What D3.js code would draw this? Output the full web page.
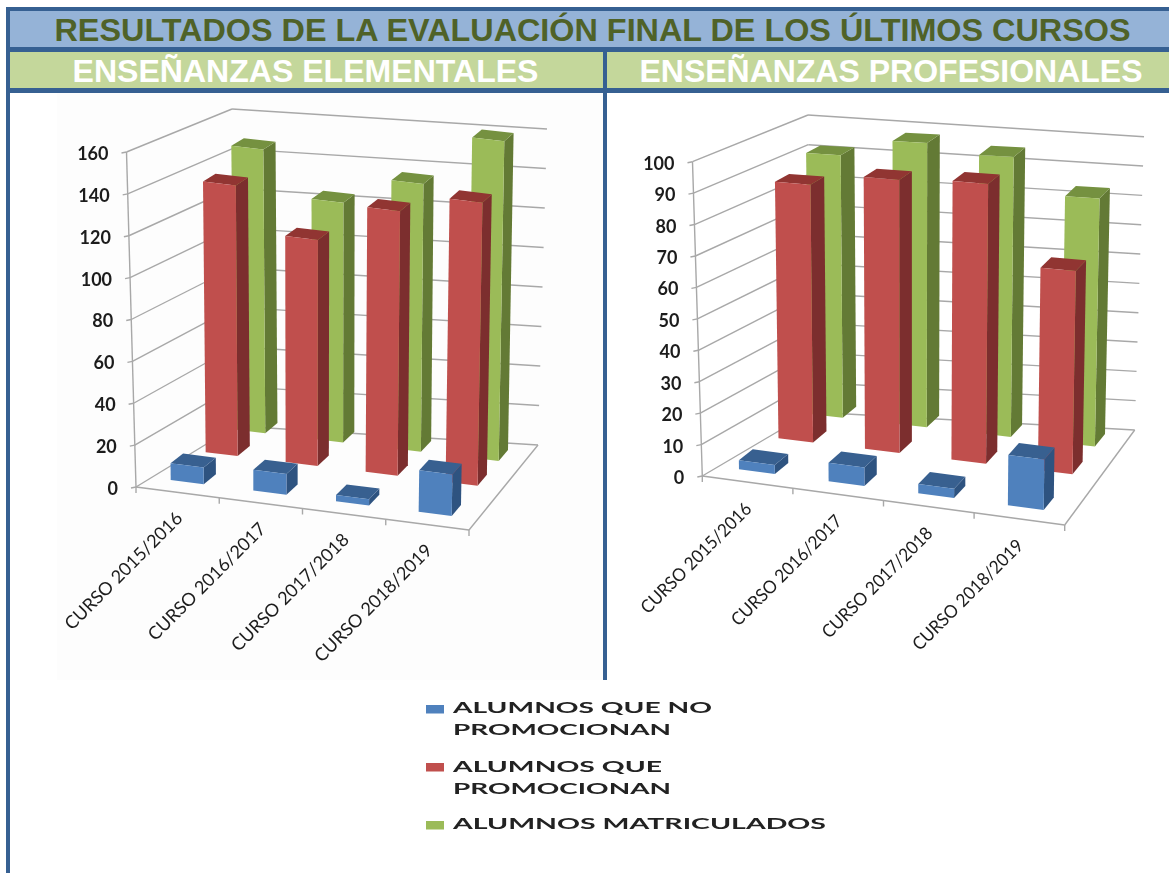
<!DOCTYPE html>
<html><head><meta charset="utf-8">
<script src="https://cdn.jsdelivr.net/npm/d3@7/dist/d3.min.js"></script>
<style>html,body{margin:0;padding:0;background:#fff}svg{display:block}</style>
</head><body><svg id="c" width="1169" height="873"></svg>
<script>
const titleText = "RESULTADOS DE LA EVALUACIÓN FINAL DE LOS ÚLTIMOS CURSOS";
const panelTitles = ["ENSEÑANZAS ELEMENTALES", "ENSEÑANZAS PROFESIONALES"];
const categories = ["CURSO 2015/2016", "CURSO 2016/2017", "CURSO 2017/2018", "CURSO 2018/2019"];
const seriesNames = ["ALUMNOS QUE NO PROMOCIONAN", "ALUMNOS QUE PROMOCIONAN", "ALUMNOS MATRICULADOS"];
const elemNoPromo = [8, 10, 3, 20];
const elemPromo = [133, 111, 130, 139];
const elemMatric = [142, 120, 134, 160];
const profNoPromo = [3, 6, 3, 16];
const profPromo = [87, 91, 92, 66];
const profMatric = [91, 97, 94, 82];

const seriesColors = [
  {front:"#4f81bd", side:"#2f5280", top:"#386090"},
  {front:"#c0504d", side:"#7c2f2d", top:"#913432"},
  {front:"#9bbb59", side:"#647a34", top:"#74913f"}
];
const FRAME = "#366092", GRID = "#a8a8a8";

const svg = d3.select("#c");
const defs = svg.append("defs");
defs.append("filter").attr("id","soft").attr("x","-5%").attr("y","-5%").attr("width","110%").attr("height","110%")
  .append("feGaussianBlur").attr("stdDeviation",0.4);
defs.append("filter").attr("id","softer").attr("x","-5%").attr("y","-20%").attr("width","110%").attr("height","140%")
  .append("feGaussianBlur").attr("stdDeviation",0.55);
const mix = d3.interpolateArray;
const at = (a, b, t) => mix(a, b)(t);

// header and frame
svg.append("rect").attr("x",6).attr("y",7).attr("width",1163).attr("height",86).attr("fill",FRAME);
svg.append("rect").attr("x",10).attr("y",11).attr("width",1159).attr("height",36).attr("fill","#95b3d7");
svg.append("rect").attr("x",10).attr("y",52).attr("width",593).attr("height",36).attr("fill","#c4d79b");
svg.append("rect").attr("x",607).attr("y",52).attr("width",562).attr("height",36).attr("fill","#c4d79b");
svg.append("rect").attr("x",6).attr("y",93).attr("width",4).attr("height",780).attr("fill",FRAME);
svg.append("rect").attr("x",603).attr("y",88).attr("width",4).attr("height",592).attr("fill",FRAME);
svg.append("rect").attr("x",57).attr("y",93).attr("width",546).attr("height",587).attr("fill","#fdfdfd");

const headFont = "'Liberation Sans', Arial, sans-serif";
svg.append("text").attr("x",592.5).attr("y",41).attr("text-anchor","middle")
  .attr("font-family",headFont).attr("font-weight",700).attr("font-size",31)
  .attr("textLength",1076).attr("lengthAdjust","spacingAndGlyphs")
  .attr("fill","#4f6228").text(titleText);
[[305.5,466],[891,503]].forEach(([x,w],i)=>{
  svg.append("text").attr("x",x).attr("y",82).attr("text-anchor","middle")
    .attr("font-family",headFont).attr("font-weight",700).attr("font-size",31)
    .attr("textLength",w).attr("lengthAdjust","spacingAndGlyphs")
    .attr("fill","#fff").text(panelTitles[i]);
});

const frameMap = c => (u,d,t) => at(
    at(at(c.fl,c.fr,u), at(c.bl,c.br,u), d),
    at(at(c.tfl,c.tfr,u), at(c.tbl,c.tbr,u), d), t);

function drawChart(cfg){
  const g = svg.append("g").attr("filter","url(#soft)");
  const P = frameMap(cfg.walls);      // axes and gridlines
  const B = frameMap(cfg.bars);       // bars
  const y = d3.scaleLinear().domain([0,cfg.max]).range([0,1]);
  const x = d3.scaleBand().domain(categories).range([0,1]).paddingInner(0.6).paddingOuter(0);
  const xTick = d3.scaleBand().domain(categories).range([0,1]);
  const z = d3.scaleOrdinal().domain([0,1,2]).range(cfg.rows);
  const rowDepth = 0.165;
  const pts = a => a.map(p=>p.join(",")).join(" ");

  const line = (a,b,w=1.4)=>g.append("line").attr("x1",a[0]).attr("y1",a[1]).attr("x2",b[0]).attr("y2",b[1])
     .attr("stroke",GRID).attr("stroke-width",w);
  y.ticks(cfg.tickCount).forEach(v=>{
    const t=y(v);
    line(P(0,0,t),P(0,1,t));
    line(P(0,1,t),P(1,1,t));
    const a=P(0,0,t);
    line([a[0]-5,a[1]+1],a);
    g.append("text").attr("x",a[0]-cfg.labelGap).attr("y",a[1]+1.5).attr("dy","0.36em").attr("text-anchor","end")
      .attr("font-family","Lato, sans-serif").attr("font-size",cfg.tickFont).attr("font-weight",700)
      .attr("fill","#1c1c1c").text(v);
  });
  line(P(0,0,0),P(0,0,1));
  line(P(0,0,0),P(1,0,0));
  line(P(1,0,0),P(1,1,0));
  [0,1,2,3,4].forEach(i=>{
    const a=P(i/4,0,0);
    line(a,[a[0],a[1]+6]);
  });
  categories.forEach(cat=>{
    const m=P(xTick(cat)+xTick.bandwidth()/2,0,0);
    g.append("text").attr("transform",`translate(${m[0]+cfg.catDx},${m[1]+cfg.catDy}) rotate(-45)`)
      .attr("text-anchor","end").attr("font-family","Lato, sans-serif").attr("font-size",cfg.catFont)
      .attr("textLength",cfg.catLen).attr("lengthAdjust","spacingAndGlyphs")
      .attr("fill","#1c1c1c").text(cat);
  });
  [2,1,0].forEach(s=>{
    const col=seriesColors[s];
    const vals=cfg.series[s];
    categories.forEach((cat,i)=>{
      const u0=x(cat),u1=u0+x.bandwidth(),d0=z(s),d1=d0+rowDepth,t=y(vals[i]);
      const b=g.append("g");
      b.append("polygon").attr("points",pts([B(u1,d0,0),B(u1,d1,0),B(u1,d1,t),B(u1,d0,t)])).attr("fill",col.side);
      b.append("polygon").attr("points",pts([B(u0,d0,t),B(u1,d0,t),B(u1,d1,t),B(u0,d1,t)])).attr("fill",col.top);
      b.append("polygon").attr("points",pts([B(u0,d0,0),B(u1,d0,0),B(u1,d0,t),B(u0,d0,t)])).attr("fill",col.front);
    });
  });
}

drawChart({
  max:160, tickCount:8, tickFont:18, labelGap:18, catFont:18, catLen:158, catDx:6, catDy:27,
  rows:[0,0.46,0.835],
  series:[elemNoPromo,elemPromo,elemMatric],
  walls:{fl:[136,487],fr:[469,530],bl:[236,426],br:[538,445],
         tfl:[126.5,152],tfr:[480,190],tbl:[232,109],tbr:[547,129]},
  bars:{fl:[170.7,480],fr:[451.7,516],bl:[246.7,419.5],br:[508,450],
        tfl:[167.5,147],tfr:[457.3,183],tbl:[243.5,102.5],tbr:[513.6,133]}
});
drawChart({
  max:100, tickCount:10, tickFont:18, labelGap:18, catFont:18, catLen:148, catDx:5, catDy:28,
  rows:[0,0.47,0.835],
  series:[profNoPromo,profPromo,profMatric],
  walls:{fl:[702.3,476],fr:[1064.7,525],bl:[811,412],br:[1134.7,430],
         tfl:[692.5,161.7],tfr:[1076,205],tbl:[808,115],tbr:[1144,136.7]},
  bars:{fl:[739,469.3],fr:[1043.7,510],bl:[823,403],br:[1105,434],
        tfl:[734,164.3],tfr:[1047.7,195],tbl:[820,120],tbr:[1111,134]}
});

// legend
const legendRows = [
  {s:0,lines:[["ALUMNOS QUE NO",259],["PROMOCIONAN",218]],y:[713,735],sw:705},
  {s:1,lines:[["ALUMNOS QUE",209],["PROMOCIONAN",218]],y:[772,794],sw:763},
  {s:2,lines:[["ALUMNOS MATRICULADOS",373]],y:[829],sw:821}
];
const lg = svg.append("g").attr("filter","url(#softer)");
legendRows.forEach(r=>{
  lg.append("rect").attr("x",426).attr("y",r.sw).attr("width",18).attr("height",8.5).attr("fill",seriesColors[r.s].front);
  r.lines.forEach(([t,w],i)=>{
    lg.append("text").attr("x",453).attr("y",r.y[i]).attr("font-family","Lato, sans-serif").attr("font-size",16)
      .attr("font-weight",700).attr("textLength",w).attr("lengthAdjust","spacingAndGlyphs")
      .attr("fill","#222").text(t);
  });
});
</script></body></html>
